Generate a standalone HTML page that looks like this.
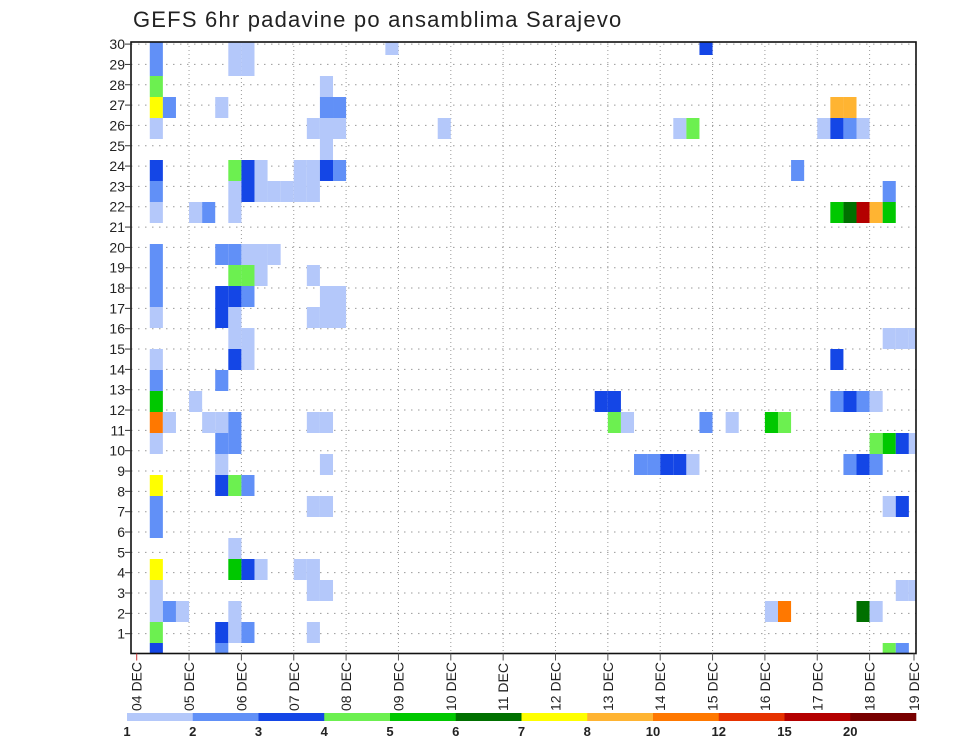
<!DOCTYPE html>
<html><head><meta charset="utf-8"><style>
html,body{margin:0;padding:0;background:#fff;}
svg{display:block;font-family:"Liberation Sans",sans-serif;}
</style></head><body>
<svg id="chart" width="960" height="742" viewBox="0 0 960 742">
<text x="133" y="27" font-size="22" fill="#222" letter-spacing="1.2">GEFS 6hr padavine po ansamblima Sarajevo</text>
<g id="grid"></g>
<g id="cells"></g>
<g id="axes"></g>
<g id="cbar"></g>
</svg>
<script>
// 6-hour step index, ensemble member, precipitation (mm) — grouped by member row
const steps = [
 1,7,8,19,43,
 1,7,8,
 1,14,
 1,2,6,14,15,53,54,
 1,13,14,15,23,41,42,52,53,54,55,
 14,
 1,7,8,9,12,13,14,15,50,
 1,7,8,9,10,11,12,13,57,
 1,4,5,7,53,54,55,56,57,
 1,6,7,8,9,10,
 1,7,8,9,13,
 1,6,7,8,14,15,
 1,6,7,13,14,15,
 7,8,57,58,59,
 1,7,8,53,
 1,6,
 1,4,35,36,53,54,55,56,
 1,2,5,6,7,13,14,36,37,43,45,48,49,
 1,6,7,56,57,58,59,
 6,14,38,39,40,41,42,54,55,56,
 1,6,7,8,
 1,13,14,57,58,
 1,
 7,
 1,7,8,9,12,13,
 1,13,14,58,59,
 1,2,3,7,48,49,55,56,
 1,6,7,8,13,
 1,6,57,58];
const members = [
 30,30,30,30,30,
 29,29,29,
 28,28,
 27,27,27,27,27,27,27,
 26,26,26,26,26,26,26,26,26,26,26,
 25,
 24,24,24,24,24,24,24,24,24,
 23,23,23,23,23,23,23,23,23,
 22,22,22,22,22,22,22,22,22,
 20,20,20,20,20,20,
 19,19,19,19,19,
 18,18,18,18,18,18,
 17,17,17,17,17,17,
 16,16,16,16,16,
 15,15,15,15,
 14,14,
 13,13,13,13,13,13,13,13,
 12,12,12,12,12,12,12,12,12,12,12,12,12,
 11,11,11,11,11,11,11,
 10,10,10,10,10,10,10,10,10,10,
 9,9,9,9,
 8,8,8,8,8,
 7,
 6,
 5,5,5,5,5,5,
 4,4,4,4,4,
 3,3,3,3,3,3,3,3,
 2,2,2,2,2,
 1,1,1,1];
const precip = [
 2.5,1.5,1.5,1.5,3.5,
 2.5,1.5,1.5,
 4.5,1.5,
 7.5,2.5,1.5,2.5,2.5,9,9,
 1.5,1.5,1.5,1.5,1.5,1.5,4.5,1.5,3.5,2.5,1.5,
 1.5,
 3.5,4.5,3.5,1.5,1.5,1.5,3.5,2.5,2.5,
 2.5,1.5,3.5,1.5,1.5,1.5,1.5,1.5,2.5,
 1.5,1.5,2.5,1.5,5.5,6.5,17,9,5.5,
 2.5,2.5,2.5,1.5,1.5,1.5,
 2.5,4.5,4.5,1.5,1.5,
 2.5,3.5,3.5,2.5,1.5,1.5,
 1.5,3.5,1.5,1.5,1.5,1.5,
 1.5,1.5,1.5,1.5,1.5,
 1.5,3.5,1.5,3.5,
 2.5,2.5,
 5.5,1.5,3.5,3.5,2.5,3.5,2.5,1.5,
 11,1.5,1.5,1.5,2.5,1.5,1.5,4.5,1.5,2.5,1.5,5.5,4.5,
 1.5,2.5,2.5,4.5,5.5,3.5,1.5,
 1.5,1.5,2.5,2.5,3.5,3.5,1.5,2.5,3.5,2.5,
 7.5,3.5,4.5,2.5,
 2.5,1.5,1.5,1.5,3.5,
 2.5,
 1.5,
 7.5,5.5,3.5,1.5,1.5,1.5,
 1.5,1.5,1.5,1.5,1.5,
 1.5,2.5,1.5,1.5,1.5,11,6.5,1.5,
 4.5,3.5,1.5,2.5,1.5,
 3.5,2.5,4.5,2.5];
const levelBounds = [1,2,3,4,5,6,7,8,10,12,15,20];
const levelColors = ["#b4c8fa","#6190f7","#1446e6","#6cf050","#00c800","#007000","#ffff00","#ffb432","#ff7800","#e63200","#b40000","#780000"];
const dayLabels = ["04 DEC","05 DEC","06 DEC","07 DEC","08 DEC","09 DEC","10 DEC","11 DEC","12 DEC","13 DEC","14 DEC","15 DEC","16 DEC","17 DEC","18 DEC","19 DEC"];
const memberTicks = [1,2,3,4,5,6,7,8,9,10,11,12,13,14,15,16,17,18,19,20,21,22,23,24,25,26,27,28,29,30];

const NS="http://www.w3.org/2000/svg";
const L=131,R=916,T=42,B=653.5;
const X0=136.7, DAY=52.35;
const xDay=d=>X0+d*DAY;
const xStep=s=>X0+s*DAY/4;
const yCellTop=m=>34+21*(30-m);
const yTick=k=>654-k*20.33;
function colorFor(v){let i=0;for(let j=0;j<levelBounds.length;j++){if(v>=levelBounds[j])i=j;}return levelColors[i];}
function mk(tag,attrs,parent){const e=document.createElementNS(NS,tag);for(const k in attrs)e.setAttribute(k,attrs[k]);parent.appendChild(e);return e;}

const grid=document.getElementById('grid');
memberTicks.forEach(k=>{
  const l=mk('line',{x1:L,x2:R,y1:yTick(k),y2:yTick(k),stroke:'#9a9a9a','stroke-width':1,'stroke-dasharray':'1.5 5.5'},grid);
  
  
});
dayLabels.forEach((d,i)=>{
  const x=Math.min(xDay(i),R);
  if(i===0||x>=R)return;
  const l=mk('line',{x1:x,x2:x,y1:T,y2:B,stroke:'#9a9a9a','stroke-width':1,'stroke-dasharray':'1 3'},grid);
  
  
});

const cells=document.getElementById('cells');
for(let i=0;i<steps.length;i++){
  let x1=xStep(steps[i]),x2=xStep(steps[i]+1);
  let y1=yCellTop(members[i]),y2=y1+21;
  x1=Math.max(x1,L);x2=Math.min(x2,R);y1=Math.max(y1,T);y2=Math.min(y2,B);
  if(x2<=x1||y2<=y1)continue;
  const r=mk('rect',{x:x1,y:y1,width:x2-x1,height:y2-y1,fill:colorFor(precip[i])},cells);
  
  
}

const axes=document.getElementById('axes');
const fr=mk('rect',{x:L,y:T,width:R-L,height:B-T,fill:'none',stroke:'#111','stroke-width':1.6},axes);


memberTicks.forEach(k=>{
  const y=yTick(k);
  const t=mk('line',{x1:L-6,x2:L,y1:y,y2:y,stroke:'#333','stroke-width':1},axes);
  
  
  const tx=mk('text',{x:L-6,y:y+5,'font-size':14,'text-anchor':'end',fill:'#222'},axes);
  tx.textContent=String(k);
  
  
});
dayLabels.forEach((d,i)=>{
  const x=Math.min(xDay(i),R-2);
  const t=mk('line',{x1:x,x2:x,y1:B,y2:B+7,stroke:i===0?'#c33':'#555','stroke-width':1},axes);
  
  
  const tx=mk('text',{x:x+5,y:711,'font-size':14,fill:'#222',transform:`rotate(-90 ${x+5} 711)`},axes);
  tx.textContent=d;
  
  
});

const cbar=document.getElementById('cbar');
const CB0=127,CB1=916,segW=(CB1-CB0)/levelColors.length;
levelColors.forEach((c,i)=>{
  const r=mk('rect',{x:CB0+i*segW,y:713,width:segW+0.3,height:8,fill:c},cbar);
  
  
});
levelBounds.forEach((b,i)=>{
  const tx=mk('text',{x:CB0+i*segW,y:736,'font-size':13,'font-weight':'bold','text-anchor':'middle',fill:'#222'},cbar);
  tx.textContent=String(b);
  
  
});
</script>
</body></html>
